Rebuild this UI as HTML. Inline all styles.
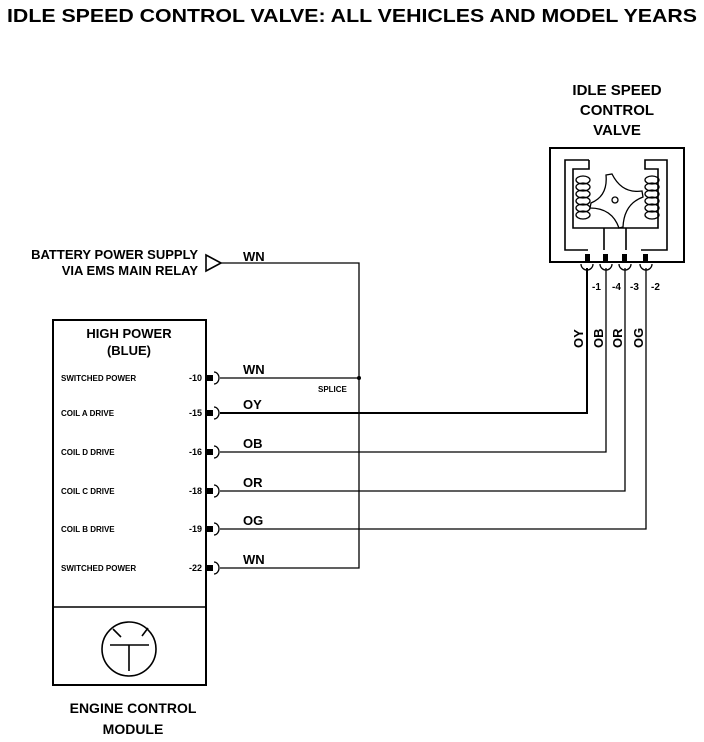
<!DOCTYPE html>
<html><head><meta charset="utf-8"><style>
body{margin:0;background:#fff;}
svg{display:block;}
text{font-family:"Liberation Sans",sans-serif;font-weight:bold;fill:#000;}
</style></head><body>
<svg width="704" height="742" viewBox="0 0 704 742" xmlns="http://www.w3.org/2000/svg">
<text x="352" y="22" font-size="18" text-anchor="middle" textLength="690" lengthAdjust="spacingAndGlyphs">IDLE SPEED CONTROL VALVE: ALL VEHICLES AND MODEL YEARS</text>

<!-- valve -->
<text x="617" y="95" font-size="15" text-anchor="middle">IDLE SPEED</text>
<text x="617" y="115" font-size="15" text-anchor="middle">CONTROL</text>
<text x="617" y="135" font-size="15" text-anchor="middle">VALVE</text>
<rect x="550" y="148" width="134" height="114" fill="none" stroke="#000" stroke-width="2"/>
<path d="M589 160 H565 V250 H588 M604 250 V228 H626 V250 M641 250 H667 V160 H645 V169 H658 V228 H626 M604 228 H573 V169 H589 V160" fill="none" stroke="#000" stroke-width="1.6"/>
<g fill="none" stroke="#000" stroke-width="1.3">
<ellipse cx="583" cy="180" rx="7" ry="4"/><ellipse cx="583" cy="187" rx="7" ry="4"/><ellipse cx="583" cy="194" rx="7" ry="4"/><ellipse cx="583" cy="201" rx="7" ry="4"/><ellipse cx="583" cy="208" rx="7" ry="4"/><ellipse cx="583" cy="215" rx="7" ry="4"/>
<ellipse cx="652" cy="180" rx="7" ry="4"/><ellipse cx="652" cy="187" rx="7" ry="4"/><ellipse cx="652" cy="194" rx="7" ry="4"/><ellipse cx="652" cy="201" rx="7" ry="4"/><ellipse cx="652" cy="208" rx="7" ry="4"/><ellipse cx="652" cy="215" rx="7" ry="4"/>
<path d="M606 175 L612 174 Q622 194 642 191 L643 197 Q624 204 623 227 L619 228 Q612 208 590 208 L591 203 Q608 196 606 175 Z"/>
<circle cx="615" cy="200" r="3"/>
</g>
<g fill="#000"><rect x="585" y="254" width="5" height="8"/><rect x="603" y="254" width="5" height="8"/><rect x="622" y="254" width="5" height="8"/><rect x="643" y="254" width="5" height="8"/></g>
<g fill="none" stroke="#000" stroke-width="1.3"><path d="M581 264 a6 6 0 0 0 12 0"/><path d="M600 264 a6 6 0 0 0 12 0"/><path d="M619 264 a6 6 0 0 0 12 0"/><path d="M640 264 a6 6 0 0 0 12 0"/></g>
<g font-size="10"><text x="592" y="290">-1</text><text x="612" y="290">-4</text><text x="630" y="290">-3</text><text x="651" y="290">-2</text></g>
<g font-size="13">
<text transform="translate(583,348) rotate(-90)">OY</text>
<text transform="translate(603,348) rotate(-90)">OB</text>
<text transform="translate(622,348) rotate(-90)">OR</text>
<text transform="translate(643,348) rotate(-90)">OG</text>
</g>

<!-- battery -->
<text x="198" y="259" font-size="13" text-anchor="end">BATTERY POWER SUPPLY</text>
<text x="198" y="275" font-size="13" text-anchor="end">VIA EMS MAIN RELAY</text>
<path d="M206 255 L221 263 L206 271 Z" fill="none" stroke="#000" stroke-width="1.6"/>
<text x="243" y="261" font-size="13">WN</text>

<g stroke="#000" fill="none" stroke-width="1.3">
<path d="M221 263 H359 V568 H220"/>
<path d="M220 378 H359"/>
<path d="M220 413 H587 V268" stroke-width="2"/>
<path d="M220 452 H606 V268"/>
<path d="M220 491 H625 V268"/>
<path d="M220 529 H646 V268"/>
</g>
<circle cx="359" cy="378" r="2" fill="#000"/>
<text x="318" y="392" font-size="8">SPLICE</text>

<!-- ECM -->
<rect x="53" y="320" width="153" height="365" fill="none" stroke="#000" stroke-width="2"/>
<line x1="53" y1="607" x2="206" y2="607" stroke="#000" stroke-width="1.5"/>
<text x="129" y="338" font-size="13" text-anchor="middle">HIGH POWER</text>
<text x="129" y="355" font-size="13" text-anchor="middle">(BLUE)</text>
<g font-size="8">
<text x="61" y="381">SWITCHED POWER</text><text x="61" y="416">COIL A DRIVE</text><text x="61" y="455">COIL D DRIVE</text><text x="61" y="494">COIL C DRIVE</text><text x="61" y="532">COIL B DRIVE</text><text x="61" y="571">SWITCHED POWER</text>
</g>
<g font-size="9">
<text x="202" y="381" text-anchor="end">-10</text><text x="202" y="416" text-anchor="end">-15</text><text x="202" y="455" text-anchor="end">-16</text><text x="202" y="494" text-anchor="end">-18</text><text x="202" y="532" text-anchor="end">-19</text><text x="202" y="571" text-anchor="end">-22</text>
</g>
<g fill="#000"><rect x="207" y="375" width="6" height="6"/><rect x="207" y="410" width="6" height="6"/><rect x="207" y="449" width="6" height="6"/><rect x="207" y="488" width="6" height="6"/><rect x="207" y="526" width="6" height="6"/><rect x="207" y="565" width="6" height="6"/></g>
<g fill="none" stroke="#000" stroke-width="1.3">
<path d="M214 372 a5 6 0 0 1 0 12"/><path d="M214 407 a5 6 0 0 1 0 12"/><path d="M214 446 a5 6 0 0 1 0 12"/><path d="M214 485 a5 6 0 0 1 0 12"/><path d="M214 523 a5 6 0 0 1 0 12"/><path d="M214 562 a5 6 0 0 1 0 12"/>
</g>
<g font-size="13">
<text x="243" y="374">WN</text><text x="243" y="409">OY</text><text x="243" y="448">OB</text><text x="243" y="487">OR</text><text x="243" y="525">OG</text><text x="243" y="564">WN</text>
</g>
<circle cx="129" cy="649" r="27" fill="none" stroke="#000" stroke-width="1.6"/>
<path d="M110 645 H149 M129 645 V671 M113 629 L121 637 M142 636 L148 628" stroke="#000" stroke-width="1.6" fill="none"/>
<text x="133" y="713" font-size="14" text-anchor="middle">ENGINE CONTROL</text>
<text x="133" y="734" font-size="14" text-anchor="middle">MODULE</text>
</svg>
</body></html>
